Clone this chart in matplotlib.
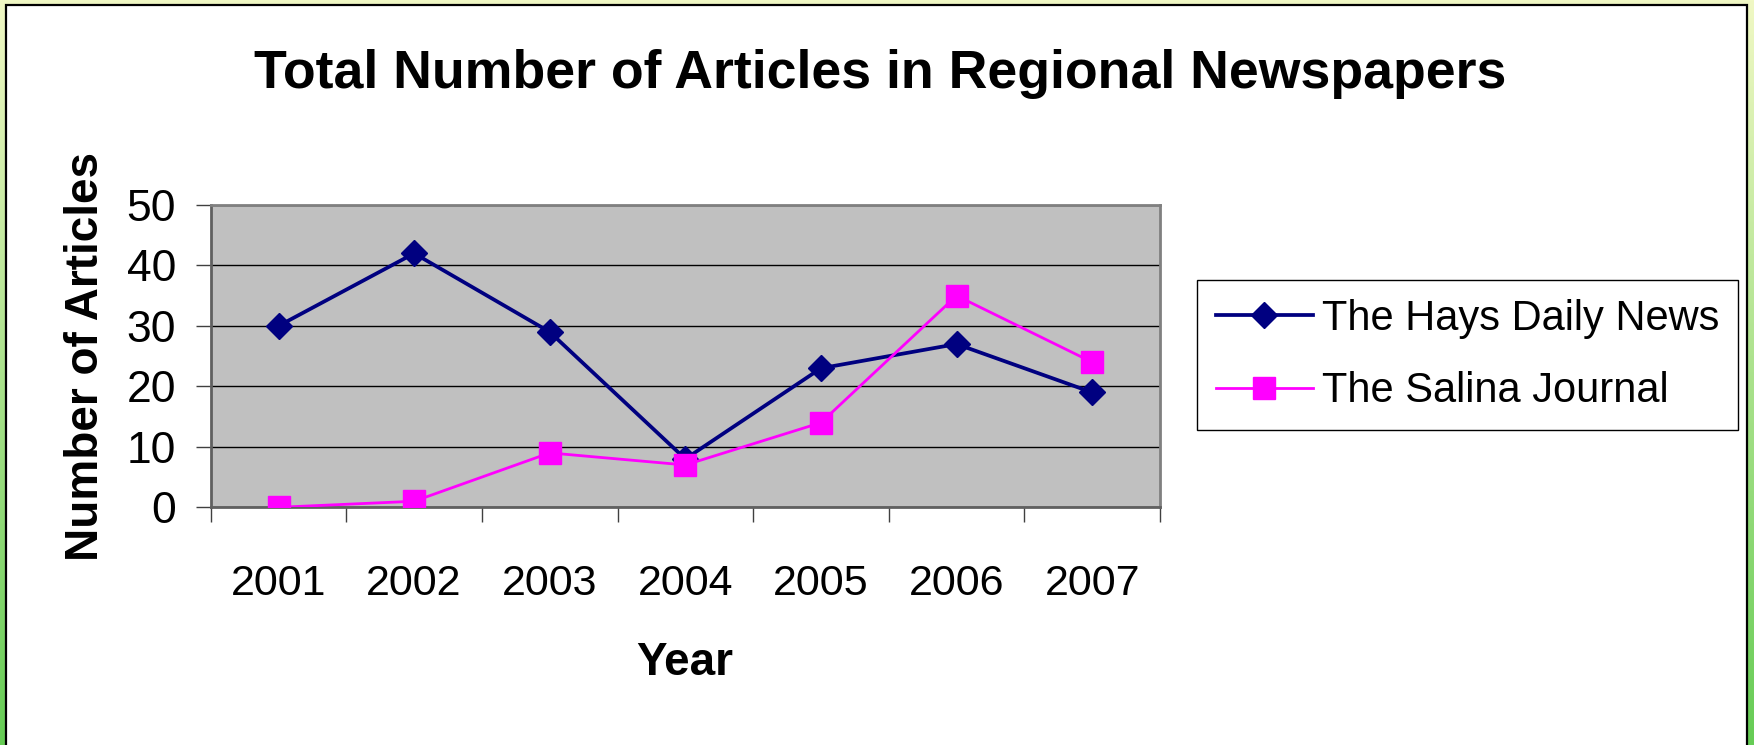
import numpy as np
import matplotlib
matplotlib.use("Agg")
import matplotlib.pyplot as plt
from matplotlib.patches import Rectangle
from matplotlib.colors import LinearSegmentedColormap

plt.rcParams['font.family'] = ['Liberation Sans', 'DejaVu Sans']

# Data
years = ['2001', '2002', '2003', '2004', '2005', '2006', '2007']
hays = [30, 42, 29, 8, 23, 27, 19]
salina = [0, 1, 9, 7, 14, 35, 24]
y_ticks = [0, 10, 20, 30, 40, 50]

fig = plt.figure(figsize=(17.54, 7.45), dpi=100)

# green gradient frame behind the white slide
bg = fig.add_axes([0, 0, 1, 1], zorder=-10)
grad_cmap = LinearSegmentedColormap.from_list('frame', ['#F0F8C4', '#66CC55'])
bg.imshow(np.linspace(0, 1, 256).reshape(-1, 1), aspect='auto', cmap=grad_cmap,
          extent=[0, 1, 0, 1], origin='upper')
bg.set_xlim(0, 1)
bg.set_ylim(0, 1)
bg.axis('off')
bg.add_patch(Rectangle((6 / 1754, -0.02), (1747 - 6) / 1754, 1.02 - 5 / 745,
                       facecolor='white', edgecolor='black', linewidth=1.6))

ax = fig.add_axes([210.7 / 1754, 1 - 507.3 / 745, (1160 - 210.7) / 1754, (507.3 - 205) / 745])
ax.set_facecolor('#C0C0C0')

x = np.arange(len(years))
ax.plot(x, hays, color='#000080', lw=2.7, marker='D', markersize=13,
        label='The Hays Daily News', zorder=3)
ax.plot(x, salina, color='#FF00FF', lw=2.0, marker='s', markersize=16.5,
        label='The Salina Journal', zorder=4)

ax.set_xlim(-0.5, len(years) - 0.5)
ax.set_ylim(0, 50)
ax.set_yticks(y_ticks)
ax.yaxis.grid(True, color='black', lw=1.0)
ax.set_axisbelow(True)

# tick marks between categories, labels at the centres
ax.set_xticks(np.arange(-0.5, len(years), 1.0))
ax.set_xticklabels([])
ax.set_xticks(x, minor=True)
ax.set_xticklabels(years, minor=True)
ax.tick_params(axis='x', which='major', length=11, width=1, color='#404040', direction='out')
ax.tick_params(axis='x', which='minor', length=0, pad=41, labelsize=31)
ax.tick_params(axis='y', length=11, width=1, color='#404040', pad=14, labelsize=32)

for side in ['top', 'right']:
    ax.spines[side].set_color('#808080')
    ax.spines[side].set_linewidth(2)
for side in ['left', 'bottom']:
    ax.spines[side].set_color('#606060')
    ax.spines[side].set_linewidth(2)

fig.text(0.5017, 0.901, 'Total Number of Articles in Regional Newspapers',
         ha='center', va='center', fontsize=38.6, fontweight='bold')
fig.text(0.049, 0.522, 'Number of Articles', rotation=90,
         ha='center', va='center', fontsize=33, fontweight='bold')
fig.text(685 / 1754, 0.110, 'Year', ha='center', va='center',
         fontsize=33, fontweight='bold')

leg = ax.legend(loc='center left', bbox_to_anchor=(1197 / 1754, 1 - 355 / 745),
                bbox_transform=fig.transFigure, borderaxespad=0, fontsize=30,
                frameon=True, fancybox=False, edgecolor='black', framealpha=1,
                handlelength=2.33, handletextpad=0.22, labelspacing=0.79,
                borderpad=0.45)
leg.get_frame().set_linewidth(1.0)

fig.savefig('out.png', dpi=100)
